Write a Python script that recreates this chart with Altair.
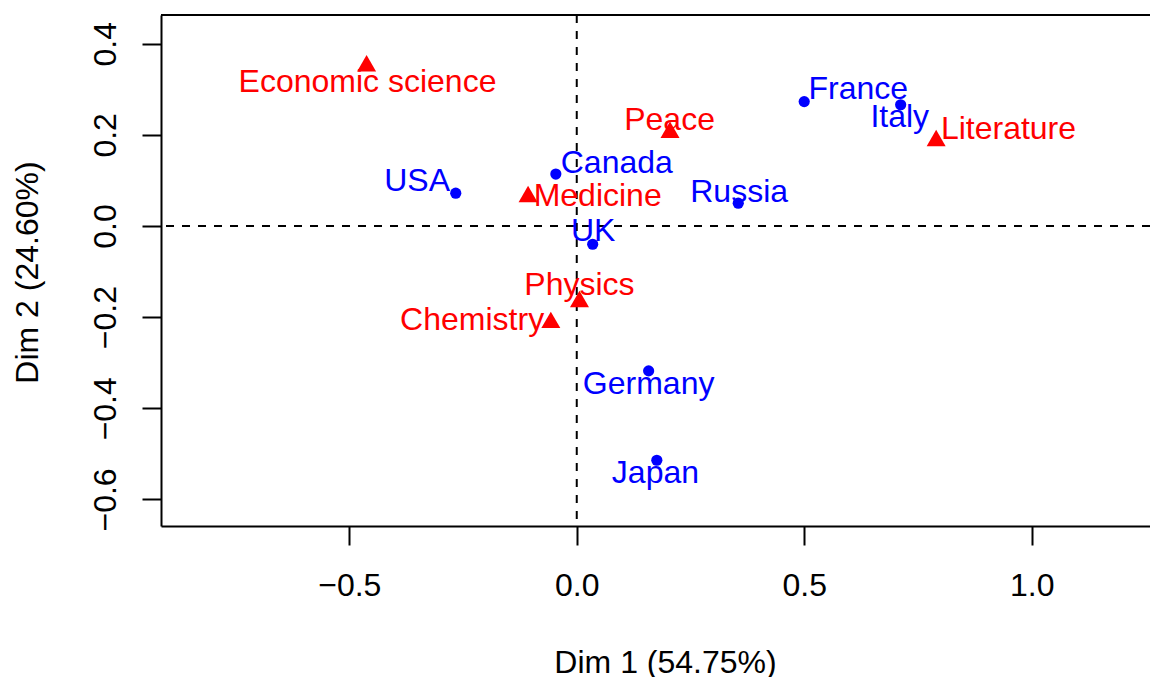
import altair as alt
import pandas as pd

# ---- data (CA biplot) ----
rows = ["USA", "Canada", "France", "Italy", "Russia", "UK", "Germany", "Japan"]
row_x = [-0.266, -0.046, 0.500, 0.712, 0.355, 0.035, 0.158, 0.176]
row_y = [0.072, 0.114, 0.273, 0.266, 0.050, -0.040, -0.318, -0.514]
row_label_x = [-0.351, 0.088, 0.619, 0.710, 0.357, 0.036, 0.158, 0.173]
row_label_y = [0.077, 0.117, 0.278, 0.218, 0.053, -0.034, -0.368, -0.563]

cols = ["Chemistry", "Economic science", "Literature", "Medicine", "Peace", "Physics"]
col_x = [-0.057, -0.462, 0.790, -0.107, 0.205, 0.006]
col_y = [-0.206, 0.357, 0.193, 0.070, 0.211, -0.160]
col_label_x = [-0.230, -0.460, 0.949, 0.046, 0.204, 0.006]
col_label_y = [-0.229, 0.294, 0.190, 0.044, 0.210, -0.152]

x_ticks = [-0.5, 0.0, 0.5, 1.0]
y_ticks = [-0.6, -0.4, -0.2, 0.0, 0.2, 0.4]
x_domain = [-0.9139, 1.2601]
y_domain = [-0.6583, 0.4630]
x_title = "Dim 1 (54.75%)"
y_title = "Dim 2 (24.60%)"

row_df = pd.DataFrame({"name": rows, "x": row_x, "y": row_y,
                       "lx": row_label_x, "ly": row_label_y})
col_df = pd.DataFrame({"name": cols, "x": col_x, "y": col_y,
                       "lx": col_label_x, "ly": col_label_y})
zero_df = pd.DataFrame({"v": [0.0]})

FONT = "Liberation Sans"
W, H = 989, 511

xscale = alt.Scale(domain=x_domain, nice=False, zero=False)
yscale = alt.Scale(domain=y_domain, nice=False, zero=False)

xaxis = alt.Axis(values=x_ticks, format=".1f", title=x_title, grid=False,
                 tickSize=19, tickWidth=2, tickColor="black",
                 domainWidth=2, domainColor="black",
                 labelFont=FONT, labelFontSize=32, labelColor="black",
                 labelBaseline="alphabetic", labelPadding=50,
                 labelFlush=False, labelOverlap=False,
                 titleFont=FONT, titleFontSize=32, titleFontWeight="normal",
                 titleColor="black", titleX=504, titleY=146,
                 titleBaseline="alphabetic", titleAlign="center")
yaxis = alt.Axis(values=y_ticks, format=".1f", title=y_title, grid=False,
                 tickSize=19, tickWidth=2, tickColor="black",
                 domainWidth=2, domainColor="black",
                 labelFont=FONT, labelFontSize=32, labelColor="black",
                 labelAngle=270, labelAlign="center", labelBaseline="alphabetic",
                 labelPadding=27, labelFlush=False, labelOverlap=False,
                 titleFont=FONT, titleFontSize=32, titleFontWeight="normal",
                 titleColor="black", titleAngle=270, titleX=-124, titleY=257,
                 titleBaseline="alphabetic", titleAlign="center")


def X(f):
    return alt.X(f, type="quantitative", scale=xscale, axis=xaxis)


def Y(f):
    return alt.Y(f, type="quantitative", scale=yscale, axis=yaxis)


hline = alt.Chart(zero_df).mark_rule(color="black", strokeWidth=2, strokeDash=[8, 8]).encode(y=Y("v"))
vline = alt.Chart(zero_df).mark_rule(color="black", strokeWidth=2, strokeDash=[8, 8]).encode(x=X("v"))
topline = alt.Chart(zero_df).mark_rule(color="black", strokeWidth=2).encode(
    x=alt.value(0), x2=alt.value(W), y=alt.value(0))

row_pts = alt.Chart(row_df).mark_point(shape="circle", filled=True, size=125,
                                        color="#0000FF", opacity=1).encode(x=X("x"), y=Y("y"))
row_txt = alt.Chart(row_df).mark_text(font=FONT, fontSize=32, align="center",
                                      baseline="alphabetic", color="#0000FF").encode(
    x=X("lx"), y=Y("ly"), text="name:N")
col_pts = alt.Chart(col_df).mark_point(shape="triangle-up", filled=True, size=361,
                                        color="#FF0000", opacity=1).encode(x=X("x"), y=Y("y"))
col_txt = alt.Chart(col_df).mark_text(font=FONT, fontSize=32, align="center",
                                      baseline="alphabetic", color="#FF0000").encode(
    x=X("lx"), y=Y("ly"), text="name:N")

chart = alt.layer(hline, vline, topline, row_pts, row_txt, col_pts, col_txt).properties(
    width=W, height=H,
    autosize=alt.AutoSizeParams(type="none"),
    padding={"left": 153, "top": 7, "right": 0, "bottom": 151},
    background="white",
).configure_view(strokeWidth=0)

chart.save("out.html", embed_options={"renderer": "svg", "actions": False})
